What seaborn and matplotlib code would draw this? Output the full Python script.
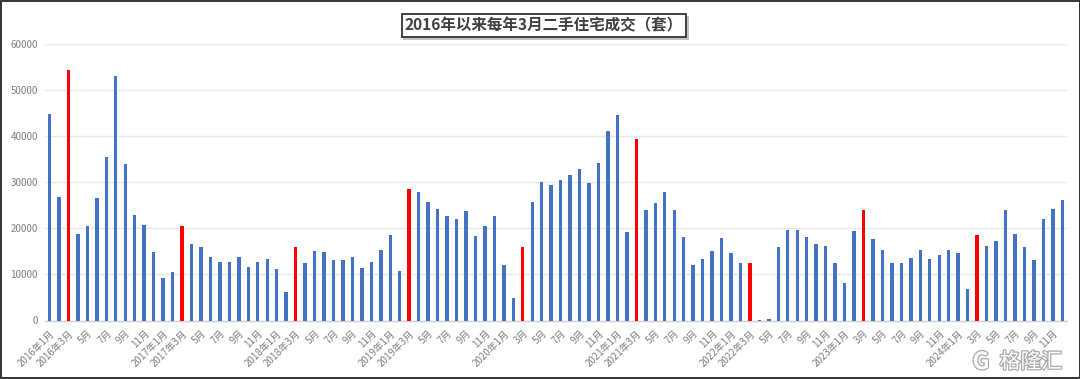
import matplotlib
matplotlib.use("Agg")
import matplotlib.pyplot as plt
from matplotlib.patches import Rectangle
import matplotlib.patheffects as pe
import seaborn as sns
import pandas as pd

title = "2016年以来每年3月二手住宅成交（套）"
values = [
    44800, 26700, 54300, 18700, 20500, 26500, 35400, 53100, 33900, 23000, 20800, 14900,
    9200, 10500, 20500, 16600, 15900, 13700, 12800, 12600, 13800, 11700, 12700, 13400,
    11200, 6200, 15900, 12400, 15000, 14800, 13100, 13100, 13700, 11500, 12700, 15300,
    18500, 10700, 28450, 27800, 25700, 24250, 22650, 22000, 23750, 18250, 20450, 22650,
    12050, 4850, 15900, 25700, 30050, 29400, 30450, 31500, 32850, 29900, 34100, 41150,
    44650, 19100, 39400, 23950, 25450, 27950, 23900, 18100, 12050, 13400, 15150, 17950,
    14750, 12550, 12450, 150, 250, 15950, 19650, 19600, 18100, 16500, 16150, 12450,
    8100, 19400, 23950, 17750, 15400, 12550, 12550, 13550, 15250, 13300, 14150, 15250,
    14750, 6800, 18450, 16250, 17150, 23900, 18700, 16000, 13050, 22050, 24100, 26250,
]
years = [2016, 2017, 2018, 2019, 2020, 2021, 2022, 2023, 2024]
months = list(range(1, 13))
tick_labels = [
    "2016年1月", "2016年3月", "5月", "7月", "9月", "11月",
    "2017年1月", "2017年3月", "5月", "7月", "9月", "11月",
    "2018年1月", "2018年3月", "5月", "7月", "9月", "11月",
    "2019年1月", "2019年3月", "5月", "7月", "9月", "11月",
    "2020年1月", "3月", "5月", "7月", "9月", "11月",
    "2021年1月", "2021年3月", "5月", "7月", "9月", "11月",
    "2022年1月", "2022年3月", "5月", "7月", "9月", "11月",
    "2023年1月", "3月", "5月", "7月", "9月", "11月",
    "2024年1月", "3月", "5月", "7月", "9月", "11月",
]
BLUE, RED = "#4472C4", "#FF0000"

sns.set_theme(style="white")
plt.rcParams["font.family"] = ["Noto Sans CJK SC", "DejaVu Sans"]

df = pd.DataFrame({
    "period": [f"{y}-{m:02d}" for y in years for m in months],
    "month": [m for y in years for m in months],
    "value": values,
})
df["kind"] = ["march" if m == 3 else "other" for m in df["month"]]

W, H = 1080, 379
fig = plt.figure(figsize=(W / 100, H / 100), dpi=100, facecolor="white")
ax = fig.add_axes([44.8 / W, 1 - 320.5 / H, (1067 - 44.8) / W, 276.5 / H])

sns.barplot(data=df, x="period", y="value", hue="kind", dodge=False, legend=False,
            palette={"march": RED, "other": BLUE}, width=0.36, saturation=1,
            linewidth=0, ax=ax, zorder=3)

ax.set_xlim(-0.5, len(values) - 0.5)
ax.set_ylim(0, 60000)
ax.set_xlabel("")
ax.set_ylabel("")
ax.set_yticks(range(0, 60001, 10000))
ax.set_xticks(range(0, len(values), 2))
ax.set_xticklabels(tick_labels, rotation=45, ha="right", rotation_mode="anchor",
                   fontsize=7.0, color="#7F7F7F")
ax.tick_params(axis="x", length=0, pad=5.5)
ax.tick_params(axis="y", length=0, pad=5, labelsize=7.0, labelcolor="#7F7F7F")
ax.grid(axis="y", color="#E8E8E8", linewidth=1, zorder=0)
ax.set_axisbelow(True)
for s in ["top", "right", "left"]:
    ax.spines[s].set_visible(False)
ax.spines["bottom"].set_color("#D0D0D0")
ax.spines["bottom"].set_linewidth(1)

# title box with drop shadow (figure pixel coordinates)
def px_rect(x0, y0, x1, y1, **kw):
    r = Rectangle((x0 / W, 1 - y1 / H), (x1 - x0) / W, (y1 - y0) / H,
                  transform=fig.transFigure, **kw)
    fig.add_artist(r)
    return r

px_rect(403, 16, 688.5, 39.5, facecolor="#A8A8A8", edgecolor="none", alpha=0.7)
px_rect(401.5, 14, 686, 37, facecolor="white", edgecolor="#333333", linewidth=1.3)
fig.text(543.5 / W, 1 - 25.5 / H, title, ha="center", va="center", fontsize=11.2,
         fontweight="bold", color="#404040")

# outer frame
px_rect(0.5, 0.5, W - 0.5, H - 0.8, facecolor="none", edgecolor="#333333", linewidth=1.4)

# watermark
fig.text(1031 / W, 1 - 362 / H, "格隆汇", ha="center", va="center", fontsize=15,
         color="white", path_effects=[pe.withStroke(linewidth=1.8, foreground="#AAAAAA")])
fig.text(981 / W, 1 - 362 / H, "G", ha="center", va="center", fontsize=17, fontweight="bold",
         color="white", path_effects=[pe.withStroke(linewidth=1.8, foreground="#AAAAAA")])

fig.savefig("out.png", dpi=100, facecolor="white")
